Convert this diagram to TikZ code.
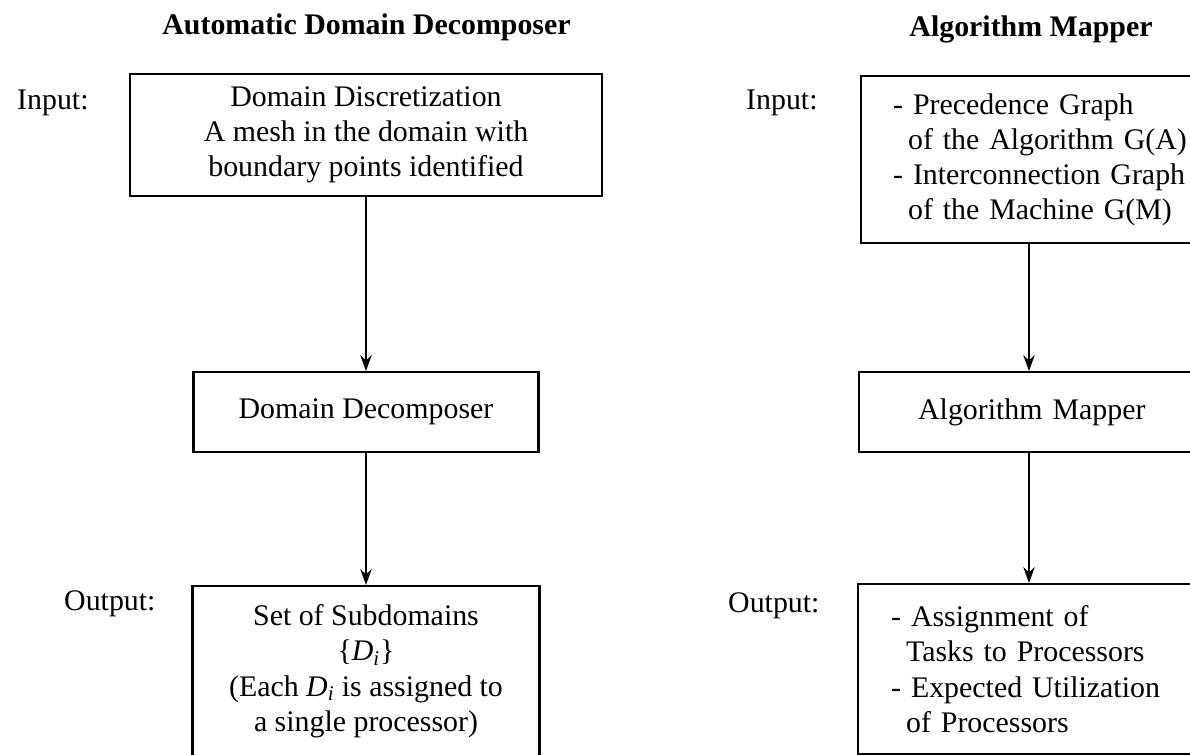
\documentclass[tikz,border=0pt]{standalone}
\usepackage{fontspec}
\setmainfont{Liberation Serif}
\usetikzlibrary{positioning, arrows.meta}
\newcommand{\subdom}{\textit{D}\textsubscript{\textit{i}}}

\begin{document}
\begin{tikzpicture}[
      every node/.style={font=\fontsize{17}{20}\selectfont},
      headlabel/.style={font=\fontsize{17}{20}\selectfont\bfseries, anchor=base},
      sidelabel/.style={anchor=base west},
      flowbox/.style={draw, line width=1.3pt, align=center, inner sep=0pt, anchor=north},
      listbox/.style={draw, line width=1.3pt, align=left, anchor=north west, inner ysep=0pt, text width=6cm},
      >={Stealth[length=9pt, width=6.5pt]},
    ]
    \clip (0,0) rectangle (23.8,-15.1);

    % left column: automatic domain decomposer
    \node[headlabel] (tL) at (7.33,-0.7) {Automatic Domain Decomposer};
    \node[sidelabel] (inL) at (0.22,-2.2) {Input:};
    \node[sidelabel] (outL) at (1.16,-12.2) {Output:};
    \node[flowbox, minimum width=9.44cm, minimum height=2.44cm] (dd1) at (7.32,-1.46)
      {Domain Discretization\\A mesh in the domain with\\boundary points identified};
    \node[flowbox, minimum width=6.9cm, minimum height=1.6cm] (dd2) at (7.32,-7.42)
      {Domain Decomposer};
    \node[flowbox, minimum width=6.94cm, minimum height=3.4cm] (dd3) at (7.32,-11.7)
      {Set of Subdomains\\\{\subdom\}\\(Each \subdom{} is assigned to\\a single processor)};

    \draw[->, line width=1pt] (dd1.south) -- (dd2.north);
    \draw[->, line width=1pt] (dd2.south) -- (dd3.north);

    % right column: algorithm mapper
    \node[headlabel] (tR) at (20.62,-0.74) {Algorithm Mapper};
    \node[sidelabel] (inR) at (14.8,-2.2) {Input:};
    \node[sidelabel] (outR) at (14.44,-12.24) {Output:};
    \node[listbox, inner xsep=0.64cm, minimum height=3.34cm] (am1) at (17.2,-1.5)
      {- Precedence Graph\\\hspace*{0.5em}of the Algorithm G(A)\\- Interconnection Graph\\\hspace*{0.5em}of the Machine G(M)};
    \node[listbox, inner xsep=1.18cm, minimum height=1.6cm] (am2) at (17.16,-7.42)
      {Algorithm Mapper};
    \node[listbox, inner xsep=0.66cm, minimum height=3.4cm] (am3) at (17.14,-11.66)
      {- Assignment of\\\hspace*{0.5em}Tasks to Processors\\- Expected Utilization\\\hspace*{0.5em}of Processors};

    \coordinate (ax) at (20.58,0);
    \draw[->, line width=1pt] (am1.south -| ax) -- (am2.north -| ax);
    \draw[->, line width=1pt] (am2.south -| ax) -- (am3.north -| ax);
  \end{tikzpicture}
\end{document}
